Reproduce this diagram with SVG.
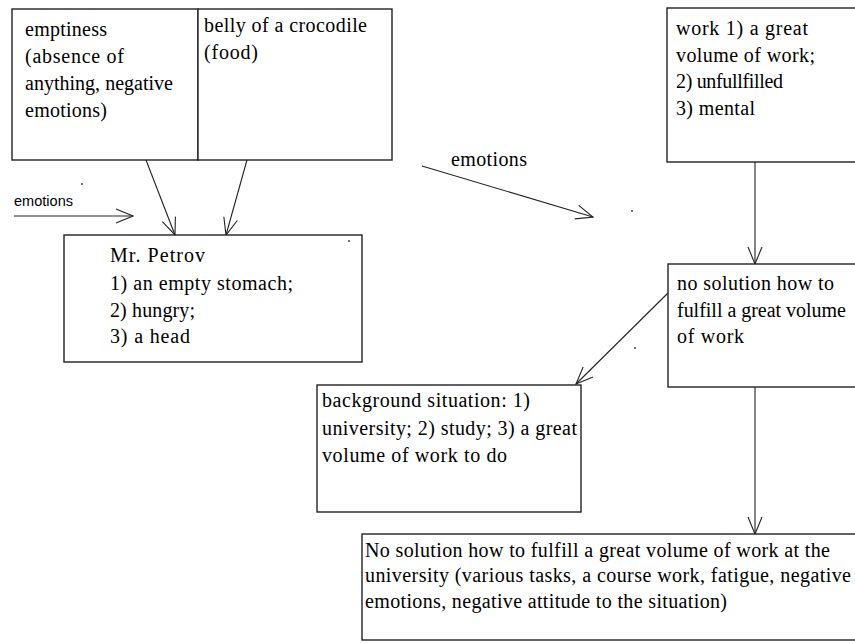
<svg xmlns="http://www.w3.org/2000/svg" width="855" height="643" viewBox="0 0 855 643">
<style>
.box{fill:#fff;stroke:#222;stroke-width:1.4}
.t{font-family:Liberation Serif,Times New Roman,Tinos,DejaVu Serif,serif;font-size:20px;fill:#000}
.s{font-family:Liberation Sans,Arial,sans-serif;font-size:14px;fill:#000}
.c{fill:none;stroke:#222;stroke-width:1.1}
.dot{fill:#333}
</style>
<defs>
<marker id="v" markerUnits="userSpaceOnUse" markerWidth="24" markerHeight="20" viewBox="-20 -10 24 20" refX="0" refY="0" orient="auto">
<path d="M-17,-7 L0,0 L-17,7" fill="none" stroke="#222" stroke-width="1.1"/>
</marker>
</defs>
<rect width="855" height="643" fill="#fff"/>
<g id="connectors">
<line class="c" x1="146" y1="160" x2="175" y2="235" marker-end="url(#v)"/>
<line class="c" x1="247" y1="160" x2="226" y2="235" marker-end="url(#v)"/>
<line class="c" x1="14" y1="216" x2="133" y2="216" marker-end="url(#v)"/>
<line class="c" x1="422" y1="166" x2="593" y2="217" marker-end="url(#v)"/>
<line class="c" x1="755" y1="162" x2="755" y2="264" marker-end="url(#v)"/>
<line class="c" x1="668" y1="293" x2="576" y2="384" marker-end="url(#v)"/>
<line class="c" x1="755" y1="387" x2="755" y2="534" marker-end="url(#v)"/>
</g>
<g id="label-emotions-left"><text class="s" x="14" y="206" textLength="59" lengthAdjust="spacingAndGlyphs">emotions</text></g>
<g id="label-emotions-right" font-family="Liberation Serif, serif"><text class="t" x="451" y="166" textLength="76">emotions</text></g>
<g id="node-emptiness" font-family="Liberation Serif, serif">
<rect class="box" x="12" y="9" width="186" height="151"/>
<text class="t" x="25" y="36" textLength="82">emptiness</text>
<text class="t" x="25" y="63" textLength="99">(absence of</text>
<text class="t" x="25" y="90" textLength="148">anything, negative</text>
<text class="t" x="25" y="117" textLength="82">emotions)</text>
</g>
<g id="node-belly" font-family="Liberation Serif, serif">
<rect class="box" x="198" y="9" width="194" height="151"/>
<text class="t" x="204" y="32" textLength="163">belly of a crocodile</text>
<text class="t" x="204" y="59" textLength="54">(food)</text>
</g>
<g id="node-petrov" font-family="Liberation Serif, serif">
<rect class="box" x="64" y="235" width="298" height="127"/>
<text class="t" x="110" y="262" textLength="95">Mr. Petrov</text>
<text class="t" x="110" y="290" textLength="183">1) an empty stomach;</text>
<text class="t" x="110" y="317" textLength="85">2) hungry;</text>
<text class="t" x="110" y="343" textLength="80">3) a head</text>
</g>
<g id="node-work" font-family="Liberation Serif, serif">
<rect class="box" x="667" y="8" width="210" height="154"/>
<text class="t" x="676" y="35" textLength="132">work 1) a great</text>
<text class="t" x="676" y="62" textLength="139">volume of work;</text>
<text class="t" x="676" y="88" textLength="107">2) unfullfilled</text>
<text class="t" x="676" y="115" textLength="79">3) mental</text>
</g>
<g id="node-nosolution" font-family="Liberation Serif, serif">
<rect class="box" x="668" y="264" width="210" height="123"/>
<text class="t" x="677" y="290" textLength="157">no solution how to</text>
<text class="t" x="677" y="317" textLength="169">fulfill a great volume</text>
<text class="t" x="677" y="343" textLength="67">of work</text>
</g>
<g id="node-background" font-family="Liberation Serif, serif">
<rect class="box" x="317" y="385" width="264" height="127"/>
<text class="t" x="322" y="407" textLength="208">background situation: 1)</text>
<text class="t" x="322" y="435" textLength="255">university; 2) study; 3) a great</text>
<text class="t" x="322" y="462" textLength="185">volume of work to do</text>
</g>
<g id="node-university" font-family="Liberation Serif, serif">
<rect class="box" x="362" y="534" width="520" height="106"/>
<text class="t" x="365" y="557" textLength="465">No solution how to fulfill a great volume of work at the</text>
<text class="t" x="365" y="582" textLength="486">university (various tasks, a course work, fatigue, negative</text>
<text class="t" x="365" y="608" textLength="362">emotions, negative attitude to the situation)</text>
</g>
<g id="specks">
<circle class="dot" cx="82" cy="184" r="0.9"/>
<circle class="dot" cx="349" cy="241" r="0.9"/>
<circle class="dot" cx="632" cy="211" r="0.9"/>
<circle class="dot" cx="635" cy="348" r="0.9"/>
</g>
</svg>
